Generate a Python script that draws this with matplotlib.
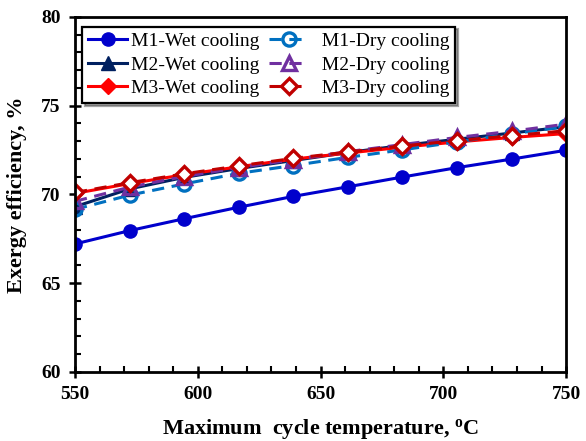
import matplotlib.pyplot as plt
from matplotlib.ticker import MultipleLocator

plt.rcParams['font.family'] = ['Liberation Serif', 'DejaVu Serif']
plt.rcParams['mathtext.fontset'] = 'custom'
plt.rcParams['mathtext.rm'] = 'Liberation Serif'
plt.rcParams['mathtext.bf'] = 'Liberation Serif:bold'

temps = [550, 572.2, 594.4, 616.7, 638.9, 661.1, 683.3, 705.6, 727.8, 750]

m1_wet = [67.2, 67.95, 68.62, 69.27, 69.88, 70.42, 70.97, 71.5, 71.98, 72.48]
m1_dry = [69.15, 69.95, 70.58, 71.18, 71.62, 72.08, 72.5, 72.95, 73.4, 73.82]
m2_wet = [69.3, 70.3, 70.95, 71.45, 71.9, 72.35, 72.75, 73.1, 73.45, 73.8]
m2_dry = [69.6, 70.4, 71.0, 71.5, 71.95, 72.4, 72.8, 73.2, 73.55, 73.95]
m3_wet = [70.05, 70.6, 71.1, 71.55, 71.98, 72.32, 72.65, 72.95, 73.2, 73.42]
m3_dry = [70.1, 70.65, 71.15, 71.6, 72.02, 72.38, 72.72, 73.02, 73.3, 73.58]

fig = plt.figure(figsize=(5.86, 4.41), dpi=100)
ax = fig.add_axes([0.128, 0.157, 0.838, 0.805])

lw = 2.2
ms = 9.5
ax.plot(temps, m1_wet, '-o', color='#0000CC', lw=lw, ms=ms, label='M1-Wet cooling')
ax.plot(temps, m2_wet, '-^', color='#002060', lw=lw, ms=ms, label='M2-Wet cooling')
ax.plot(temps, m3_wet, '-D', color='#FF0000', lw=lw, ms=ms - 1.5, label='M3-Wet cooling')
ax.plot(temps, m1_dry, '--o', color='#0070C0', lw=lw, ms=ms, mfc='none', mew=2.4,
        dashes=(4, 2.5), label='  M1-Dry cooling')
ax.plot(temps, m2_dry, '--^', color='#7030A0', lw=lw, ms=ms, mfc='none', mew=2.4,
        dashes=(4, 2.5), label='  M2-Dry cooling')
ax.plot(temps, m3_dry, '--D', color='#C00000', lw=lw, ms=ms - 1.5, mfc='white', mew=2.4,
        dashes=(4, 2.5), label='  M3-Dry cooling')

ax.set_xlim(550, 750)
ax.set_ylim(60, 80)
ax.xaxis.set_major_locator(MultipleLocator(50))
ax.xaxis.set_minor_locator(MultipleLocator(10))
ax.yaxis.set_major_locator(MultipleLocator(5))
ax.yaxis.set_minor_locator(MultipleLocator(1))
ax.tick_params(which='major', direction='inout', length=9, width=1.8,
               top=False, right=False, labelsize=14, pad=6)
ax.tick_params(which='minor', direction='in', length=4.5, width=1.5,
               top=False, right=False)
for lab in ax.get_xticklabels() + ax.get_yticklabels():
    lab.set_fontweight('bold')
for s in ax.spines.values():
    s.set_linewidth(2)

ax.set_xlabel(r'Maximum  cycle temperature, $\mathbf{^{o}}$C', fontsize=16,
              fontweight='bold', labelpad=10)
ax.set_ylabel('Exergy efficiency, %', fontsize=16, fontweight='bold', labelpad=10)

leg = ax.legend(ncol=2, loc='upper left', bbox_to_anchor=(0.015, 0.972), fontsize=14,
                frameon=True, fancybox=False, shadow=True, edgecolor='black',
                handlelength=2.0, handletextpad=0.2, columnspacing=0.5,
                labelspacing=0.3, borderpad=0.3, borderaxespad=0)
leg.get_frame().set_linewidth(1.6)

fig.savefig('out.png', dpi=100)
